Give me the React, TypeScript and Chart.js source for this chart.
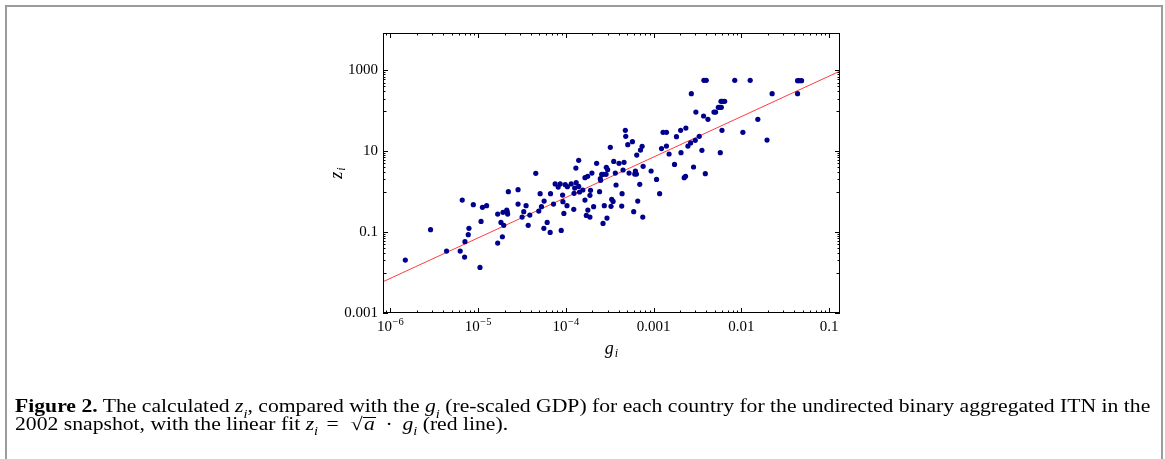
import React, { useEffect, useRef } from 'react';
import { Chart, registerables } from 'chart.js';

Chart.register(...registerables);

// ---- data ----
const gValues: number[] = [
  1.48e-6, 2.87e-6, 4.37e-6, 6.25e-6, 6.59e-6, 7.01e-6, 7.08e-6, 7.72e-6, 7.86e-6, 8.81e-6,
  1.05e-5, 1.08e-5, 1.12e-5, 1.25e-5, 1.67e-5, 1.67e-5, 1.82e-5, 1.89e-5, 1.92e-5, 1.96e-5,
  2.12e-5, 2.15e-5, 2.17e-5, 2.21e-5, 2.85e-5, 2.85e-5, 3.17e-5, 3.31e-5, 3.52e-5, 3.72e-5,
  3.88e-5, 4.54e-5, 4.91e-5, 5.09e-5, 5.27e-5, 5.61e-5, 5.65e-5, 6.12e-5, 6.62e-5, 6.68e-5,
  7.23e-5, 7.55e-5, 8.17e-5, 8.61e-5, 8.85e-5, 9.17e-5, 9.25e-5, 9.49e-5, 9.83e-5, 1.03e-4,
  1.04e-4, 1.15e-4, 1.23e-4, 1.24e-4, 1.26e-4, 1.30e-4, 1.31e-4, 1.40e-4, 1.40e-4, 1.43e-4,
  1.56e-4, 1.65e-4, 1.65e-4, 1.71e-4, 1.77e-4, 1.78e-4, 1.88e-4, 1.88e-4, 1.91e-4, 1.98e-4,
  2.07e-4, 2.24e-4, 2.42e-4, 2.47e-4, 2.49e-4, 2.56e-4, 2.65e-4, 2.67e-4, 2.74e-4, 2.87e-4,
  2.89e-4, 2.94e-4, 2.99e-4, 3.21e-4, 3.27e-4, 3.33e-4, 3.45e-4, 3.51e-4, 3.66e-4, 3.73e-4,
  4.03e-4, 4.33e-4, 4.37e-4, 4.48e-4, 4.60e-4, 4.76e-4, 4.81e-4, 5.07e-4, 5.25e-4, 5.73e-4,
  5.93e-4, 6.09e-4, 6.20e-4, 6.37e-4, 6.42e-4, 6.59e-4, 6.95e-4, 7.08e-4, 7.39e-4, 7.52e-4,
  7.59e-4, 9.36e-4, 1.08e-3, 1.17e-3, 1.23e-3, 1.28e-3, 1.40e-3, 1.40e-3, 1.50e-3, 1.73e-3,
  1.82e-3, 2.03e-3, 2.05e-3, 2.23e-3, 2.31e-3, 2.33e-3, 2.46e-3, 2.64e-3, 2.69e-3, 2.85e-3,
  2.98e-3, 3.03e-3, 3.31e-3, 3.55e-3, 3.71e-3, 3.74e-3, 3.88e-3, 3.98e-3, 4.16e-3, 4.87e-3,
  5.09e-3, 5.46e-3, 5.70e-3, 5.75e-3, 5.86e-3, 5.91e-3, 6.01e-3, 6.12e-3, 6.45e-3, 8.40e-3,
  1.04e-2, 1.26e-2, 1.54e-2, 1.96e-2, 2.24e-2, 4.37e-2, 4.37e-2, 4.56e-2, 4.85e-2,
];

const zValues: number[] = [
  0.0204, 0.115, 0.034, 0.034, 0.621, 0.0242, 0.0579, 0.0862, 0.124, 0.476,
  0.0134, 0.184, 0.409, 0.45, 0.0537, 0.28, 0.174, 0.0769, 0.308, 0.147,
  0.351, 0.313, 0.28, 1.0, 1.12, 0.494, 0.236, 0.32, 0.45, 0.147,
  0.264, 2.84, 0.332, 0.891, 0.425, 0.124, 0.586, 0.174, 0.0985, 0.891,
  0.494, 1.55, 1.3, 1.55, 0.11, 0.826, 0.565, 0.29, 1.49, 0.45,
  1.33, 1.55, 0.365, 0.908, 1.23, 3.84, 1.67, 5.94, 1.35, 0.98,
  1.1, 2.22, 0.621, 0.259, 2.39, 0.351, 0.811, 0.236, 1.08, 2.89,
  0.425, 5.01, 1.0, 2.09, 1.91, 2.68, 0.164, 2.68, 0.45, 2.68,
  3.99, 0.223, 3.49, 12.5, 0.433, 0.645, 0.575, 5.61, 2.89, 1.46,
  5.01, 0.441, 0.891, 3.43, 5.31, 32.8, 23.3, 14.5, 2.89, 17.2,
  0.32, 2.73, 3.24, 2.73, 8.05, 0.586, 1.52, 10.7, 13.2, 0.236,
  4.23, 3.24, 2.01, 0.891, 11.6, 29.3, 29.3, 13.4, 8.53, 4.73,
  22.9, 32.8, 9.2, 2.22, 2.39, 37.4, 13.4, 16.0, 265, 4.07,
  18.6, 93.1, 23.3, 10.5, 74.2, 566, 2.79, 566, 61.4, 93.1,
  93.1, 122, 122, 9.2, 171, 122, 32.8, 171, 171, 566,
  29.3, 566, 61.4, 18.9, 265, 265, 555, 555, 555,
];

const xTickValues = [1e-6, 1e-5, 1e-4, 1e-3, 1e-2, 1e-1];
// [base, exponent] pairs for the x tick labels
const xTickLabels: Array<[string, string]> = [
  ['10', '\u22126'], ['10', '\u22125'], ['10', '\u22124'], ['0.001', ''], ['0.01', ''], ['0.1', ''],
];
const yTickValues = [1e-3, 1e-1, 10, 1000];
const yTickLabels = ['0.001', '0.1', '10', '1000'];

const fitCoefficient = 7200; // sqrt(a): z = sqrt(a) * g
const xMin = 8.24e-7;
const xMax = 0.133;
const yMin = 0.001;
const yMax = 8380;

const SERIF = "'Liberation Serif', 'Times New Roman', serif";

const framePlugin = {
  id: 'mmaFrame',
  afterDraw(chart: any) {
    const { ctx, chartArea } = chart;
    const xs = chart.scales.x;
    const ys = chart.scales.y;
    const { left, right, top, bottom } = chartArea;
    ctx.save();
    ctx.strokeStyle = '#000';
    ctx.lineWidth = 1;
    ctx.strokeRect(Math.round(left) + 0.5, Math.round(top) + 0.5, Math.round(right - left) - 1, Math.round(bottom - top) - 1);

    const major = 5;
    const minor = 2.5;
    ctx.beginPath();
    for (let k = -7; k <= 0; k++) {
      for (let m = 1; m <= 9; m++) {
        const v = m * Math.pow(10, k);
        if (v < xMin || v > xMax) continue;
        const px = Math.round(xs.getPixelForValue(v)) + 0.5;
        const len = m === 1 ? major : minor;
        ctx.moveTo(px, bottom);
        ctx.lineTo(px, bottom - len);
        ctx.moveTo(px, top);
        ctx.lineTo(px, top + len);
      }
    }
    for (let k = -5; k <= 5; k += 2) {
      const M = Math.pow(10, k);
      const cand: Array<[number, number]> = [[M, major]];
      for (let m = 1; m <= 9; m++) cand.push([(m * M) / 10, m === 1 ? minor + 1 : minor]);
      for (const [v, len] of cand) {
        if (v < yMin * 0.999 || v > yMax) continue;
        const py = Math.round(ys.getPixelForValue(v)) + 0.5;
        ctx.moveTo(left, py);
        ctx.lineTo(left + len, py);
        ctx.moveTo(right, py);
        ctx.lineTo(right - len, py);
      }
    }
    ctx.stroke();

    ctx.fillStyle = '#000';
    ctx.textBaseline = 'alphabetic';
    ctx.textAlign = 'left';

    // x tick labels with real superscripts
    xTickValues.forEach((v, i) => {
      const [base, exp] = xTickLabels[i];
      ctx.font = `15px ${SERIF}`;
      const bw = ctx.measureText(base).width;
      ctx.font = `10.5px ${SERIF}`;
      const ew = exp ? ctx.measureText(exp).width + 0.5 : 0;
      const px = xs.getPixelForValue(v);
      const x0 = px - (bw + ew) / 2;
      ctx.font = `15px ${SERIF}`;
      ctx.fillText(base, x0, 331);
      if (exp) {
        ctx.font = `10.5px ${SERIF}`;
        ctx.fillText(exp, x0 + bw + 0.5, 325);
      }
    });

    const cx = (left + right) / 2;
    ctx.font = `italic 18px ${SERIF}`;
    const gw = ctx.measureText('g').width;
    ctx.font = `italic 12px ${SERIF}`;
    const iw = ctx.measureText('i').width;
    const gx = cx - (gw + iw + 1) / 2;
    ctx.font = `italic 18px ${SERIF}`;
    ctx.fillText('g', gx, 354);
    ctx.font = `italic 12px ${SERIF}`;
    ctx.fillText('i', gx + gw + 1, 357);

    ctx.translate(342, (top + bottom) / 2);
    ctx.rotate(-Math.PI / 2);
    ctx.font = `italic 18px ${SERIF}`;
    const zw = ctx.measureText('z').width;
    const zx = -(zw + iw + 1) / 2;
    ctx.fillText('z', zx, 0);
    ctx.font = `italic 12px ${SERIF}`;
    ctx.fillText('i', zx + zw + 1, 3);
    ctx.restore();
  },
};

const subStyle: React.CSSProperties = { fontSize: 12, lineHeight: 0, position: 'relative', top: 1 };
const CAPTION_WIDTH = 1135;

export default function App() {
  const canvasRef = useRef<HTMLCanvasElement | null>(null);
  const captionRef = useRef<HTMLDivElement | null>(null);

  useEffect(() => {
    const cap = captionRef.current;
    if (cap) {
      const w = cap.offsetWidth;
      if (w > 0) cap.style.transform = `scaleX(${CAPTION_WIDTH / w})`;
    }
    const canvas = canvasRef.current;
    if (!canvas) return;
    const points = gValues.map((g, i) => ({ x: g, y: zValues[i] }));
    const fitLine = [xMin, xMax].map((g) => ({ x: g, y: fitCoefficient * g }));

    const chart = new Chart(canvas, {
      type: 'scatter',
      data: {
        datasets: [
          {
            type: 'line',
            label: 'fit',
            data: fitLine,
            borderColor: 'rgba(255,40,40,0.9)',
            borderWidth: 1,
            pointRadius: 0,
            fill: false,
            order: 2,
          } as any,
          {
            label: 'countries',
            data: points,
            backgroundColor: 'rgb(0,0,140)',
            borderColor: 'rgb(0,0,140)',
            borderWidth: 0,
            pointRadius: 2.6,
            pointHoverRadius: 2.6,
            order: 1,
          },
        ],
      },
      options: {
        animation: false,
        responsive: false,
        devicePixelRatio: 1,
        events: [],
        layout: { padding: { left: 0, top: 33, right: 325, bottom: 116 } },
        plugins: {
          legend: { display: false },
          tooltip: { enabled: false },
          title: { display: false },
        },
        scales: {
          x: {
            type: 'logarithmic',
            min: xMin,
            max: xMax,
            grid: { display: false, drawTicks: false },
            border: { display: false },
            afterBuildTicks: (scale: any) => {
              scale.ticks = xTickValues.map((v) => ({ value: v }));
            },
            afterFit: (scale: any) => {
              scale.height = 30;
            },
            ticks: { display: false },
          },
          y: {
            type: 'logarithmic',
            min: yMin,
            max: yMax,
            grid: { display: false, drawTicks: false },
            border: { display: false },
            afterBuildTicks: (scale: any) => {
              scale.ticks = yTickValues.map((v) => ({ value: v }));
            },
            afterFit: (scale: any) => {
              scale.width = 383;
            },
            ticks: {
              autoSkip: false,
              padding: 5,
              color: '#000',
              font: { family: SERIF, size: 15 },
              callback: (_v: any, index: number) => yTickLabels[index],
            },
          },
        },
      },
      plugins: [framePlugin],
    });
    return () => chart.destroy();
  }, []);

  return (
    <div style={{ position: 'fixed', left: 0, top: 0, width: 1165, height: 459, background: '#fff', overflow: 'hidden' }}>
      <div
        style={{
          position: 'absolute',
          left: 5,
          top: 5,
          width: 1154,
          height: 470,
          border: '2px solid #9b9b9b',
        }}
      />
      <canvas ref={canvasRef} width={1165} height={459} style={{ position: 'absolute', left: 0, top: 0, width: 1165, height: 459 }} />
      <div
        ref={captionRef}
        style={{
          position: 'absolute',
          left: 15,
          top: 398,
          fontFamily: SERIF,
          fontSize: 18,
          lineHeight: '17.5px',
          color: '#000',
          whiteSpace: 'nowrap',
          transformOrigin: '0 0',
        }}
      >
        <div>
          <b>Figure 2.</b> The calculated <i>z</i>
          <sub style={subStyle}><i>i</i></sub>, compared with the <i>g</i>
          <sub style={subStyle}><i>i</i></sub> (re-scaled GDP) for each country for the undirected binary aggregated ITN in the
        </div>
        <div>
          2002 snapshot, with the linear fit <i>z</i>
          <sub style={subStyle}><i>i</i></sub>
          <span style={{ margin: '0 7px' }}>=</span>
          <span style={{ marginLeft: 3 }}>&radic;</span>
          <span style={{ display: 'inline-block', borderTop: '1px solid #000', lineHeight: '12px', paddingLeft: 1, paddingRight: 1 }}>
            <i>a</i>
          </span>
          <span style={{ margin: '0 8px' }}>&middot;</span>
          <i>g</i>
          <sub style={subStyle}><i>i</i></sub> (red line).
        </div>
      </div>
    </div>
  );
}
